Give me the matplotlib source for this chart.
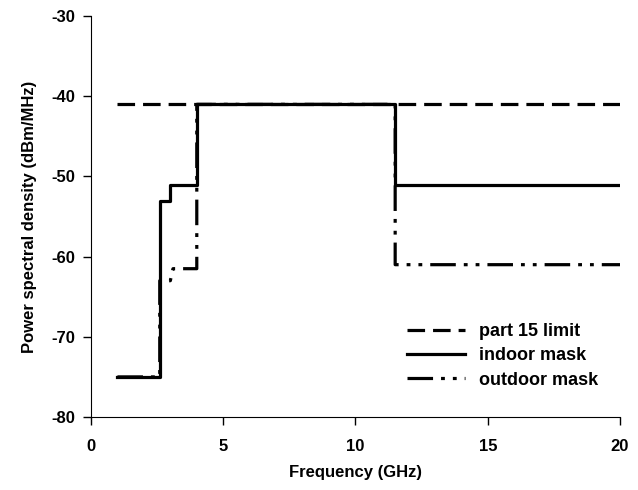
import matplotlib
matplotlib.use("Agg")
import matplotlib.pyplot as plt

# frequency (GHz) / PSD (dBm/MHz)
part15_f = [1.0, 20.0]
part15_p = [-41, -41]

indoor_f = [1.0, 2.6, 2.6, 3.0, 3.0, 4.0, 4.0, 11.5, 11.5, 20.0]
indoor_p = [-75, -75, -53, -53, -51, -51, -41, -41, -51, -51]

outdoor_f = [1.0, 2.6, 2.6, 3.0, 3.1, 4.0, 4.0, 11.5, 11.5, 20.0]
outdoor_p = [-75, -75, -63, -63, -61.5, -61.5, -41, -41, -61, -61]

plt.rcParams["font.family"] = ["Liberation Sans", "DejaVu Sans"]
plt.rcParams["font.size"] = 12
plt.rcParams["font.weight"] = "bold"
plt.rcParams["axes.labelweight"] = "bold"
plt.rcParams["axes.unicode_minus"] = False

fig = plt.figure(figsize=(6.38, 4.9), dpi=100)
ax = fig.add_axes([0.1426, 0.149, 0.8292, 0.818])

ax.plot(outdoor_f, outdoor_p, color="black", linewidth=2.3,
        dashes=(8, 2.5, 1.2, 2.5, 1.2, 2.5), label="outdoor mask")
ax.plot(indoor_f, indoor_p, color="black", linewidth=2.3, label="indoor mask")
ax.plot(part15_f, part15_p, color="black", linewidth=2.3,
        dashes=(5.5, 2.5), label="part 15 limit")

ax.set_xlim(0, 20)
ax.set_ylim(-80, -30)
ax.set_xticks([0, 5, 10, 15, 20])
ax.set_yticks([-80, -70, -60, -50, -40, -30])
ax.spines["top"].set_visible(False)
ax.spines["right"].set_visible(False)
ax.tick_params(direction="out", length=5.5, width=1)
ax.tick_params(axis="y", pad=6)
ax.tick_params(axis="x", pad=10)

ax.set_xlabel("Frequency (GHz)", labelpad=8)
ax.set_ylabel("Power spectral density (dBm/MHz)", labelpad=10)

h, l = ax.get_legend_handles_labels()
ax.legend(h[::-1], l[::-1], loc="lower right", bbox_to_anchor=(0.99, 0.03),
          frameon=False, handlelength=3.2, labelspacing=0.4, handletextpad=0.8,
          prop={"size": 13, "weight": "bold"})

fig.savefig("out.png", dpi=100)
